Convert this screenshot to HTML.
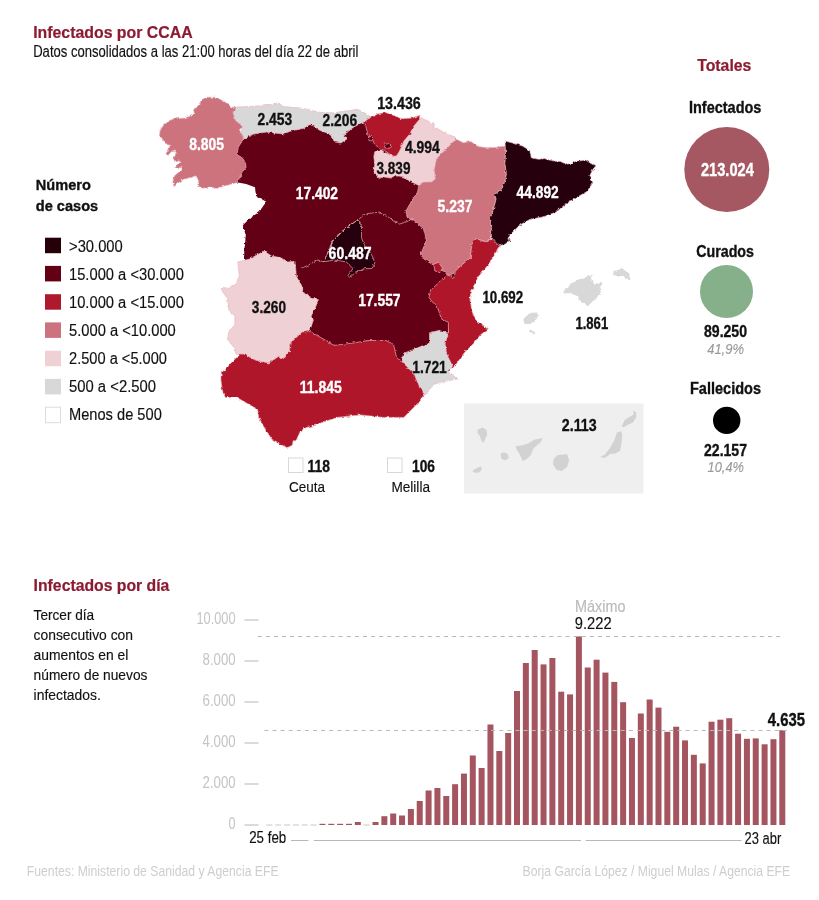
<!DOCTYPE html>
<html><head><meta charset="utf-8"><style>
html,body{margin:0;padding:0;background:#fff;}
svg{display:block;font-family:"Liberation Sans",sans-serif;will-change:transform;}
</style></head><body>
<svg width="819" height="900" viewBox="0 0 819 900">
<rect width="819" height="900" fill="#fff"/>
<defs><filter id="rough" x="-5%" y="-5%" width="110%" height="110%"><feTurbulence type="fractalNoise" baseFrequency="0.3" numOctaves="2" seed="3"/><feDisplacementMap in="SourceGraphic" scale="3.2" xChannelSelector="R" yChannelSelector="G"/></filter></defs><g filter="url(#rough)">
<polygon points="250.0,128.0 228.0,140.0 228.0,182.0 239.4,182.8 246.1,183.9 255.0,187.2 256.0,195.9 266.3,201.8 259.0,212.0 250.2,217.9 242.8,225.2 245.8,235.5 244.3,250.0 244.0,262.0 270.0,280.0 300.0,320.0 315.0,350.0 360.0,358.0 400.0,364.0 412.0,370.0 422.0,388.0 450.0,370.0 447.0,340.0 452.0,300.0 458.0,285.0 470.0,262.0 478.0,242.0 490.0,230.0 480.0,200.0 430.0,225.0 425.0,190.0 410.0,160.0 380.0,135.0 365.0,120.0 345.0,125.0 300.0,125.0 260.0,128.0" fill="#630013" />
<polygon points="207.2,97.2 215.0,97.2 220.6,99.4 226.1,102.8 231.7,107.2 237.2,107.2 233.9,112.8 235.0,117.2 238.3,121.7 241.7,125.0 242.8,127.2 239.4,129.4 241.7,135.0 243.9,138.3 241.7,141.7 238.3,147.2 237.2,155.0 241.7,157.2 245.0,161.7 246.1,167.2 241.7,172.8 239.4,178.3 237.2,182.8 231.7,183.9 223.9,186.1 217.2,188.3 209.4,187.2 202.1,188.2 197.7,185.6 198.6,180.2 195.9,175.8 190.6,177.6 183.4,179.3 177.2,183.8 173.7,186.4 172.8,181.1 174.6,175.8 180.8,170.4 181.7,166.0 178.1,168.7 175.4,166.9 180.8,162.4 179.0,159.8 174.6,161.6 173.7,158.0 176.3,153.6 175.4,150.0 171.9,150.9 168.3,155.3 166.6,152.7 168.3,148.2 170.6,145.1 168.3,144.7 164.8,142.9 162.1,138.4 159.4,135.8 160.3,129.6 163.9,125.1 169.2,120.7 174.6,118.4 181.7,118.4 188.8,116.7 192.3,115.3 195.0,113.6 193.2,110.0 195.0,109.4 199.4,103.9 201.7,99.4" fill="#cd737e" stroke="#e8b4bd" stroke-opacity="0.75" stroke-width="0.9" stroke-linejoin="round"/>
<polygon points="236.8,107.1 248.3,106.5 266.6,105.6 278.5,102.8 283.1,106.5 303.3,108.3 317.9,112.0 332.6,112.9 357.5,109.3 364.3,112.7 372.1,117.6 364.3,123.0 354.5,126.4 344.8,134.2 343.8,137.1 346.7,139.1 340.9,143.0 335.0,142.0 329.8,134.0 319.7,130.3 310.6,123.9 303.3,128.5 290.4,131.2 283.1,134.0 266.6,132.1 253.8,134.0 242.8,139.5 244.1,138.2 240.5,131.5 242.9,126.6 235.6,120.5 233.1,112.6" fill="#d8d8d8" stroke="#e8b4bd" stroke-opacity="0.75" stroke-width="0.9" stroke-linejoin="round"/>
<polygon points="374.8,151.7 382.6,150.7 384.5,152.7 389.4,153.7 393.3,154.6 396.0,140.0 405.0,125.0 415.0,118.1 418.3,115.9 424.4,119.5 433.0,123.2 434.2,129.3 436.6,128.1 442.7,131.7 453.7,136.6 455.6,139.1 448.8,146.4 442.7,152.5 436.6,158.6 434.2,168.4 435.3,179.1 431.4,182.0 423.6,182.0 420.7,185.9 417.7,184.9 413.8,183.0 408.0,181.0 404.1,177.1 399.2,176.1 394.3,176.1 390.4,178.1 384.5,177.1 380.6,179.1 377.7,177.1 373.8,171.3 374.8,164.4 373.8,156.6" fill="#efd0d5" stroke="#e8b4bd" stroke-opacity="0.75" stroke-width="0.9" stroke-linejoin="round"/>
<polygon points="362.8,122.4 369.5,118.1 378.1,113.8 385.4,112.6 392.7,115.0 401.3,118.7 411.0,118.1 419.6,115.6 419.6,119.3 413.5,126.6 409.8,134.0 403.7,141.3 401.3,147.4 398.8,152.3 396.4,155.9 392.7,156.5 389.1,153.5 384.2,150.4 378.1,147.4 374.4,143.7 372.0,138.8 368.3,136.4 367.1,131.5 365.9,126.6" fill="#b0192c" stroke="#e8b4bd" stroke-opacity="0.75" stroke-width="0.9" stroke-linejoin="round"/>
<polygon points="383.5,144.2 388.5,143.8 391.5,146.3 390.0,148.2 385.0,147.8" fill="#630013" stroke="#e8b4bd" stroke-opacity="0.75" stroke-width="0.9" stroke-linejoin="round"/>
<polygon points="368.5,137.0 371.5,136.5 373.5,138.5 371.5,141.0 369.0,140.5" fill="#630013" stroke="#e8b4bd" stroke-opacity="0.75" stroke-width="0.9" stroke-linejoin="round"/>
<polygon points="455.6,139.1 463.5,142.7 470.8,141.5 478.1,146.4 485.5,147.6 494.7,147.6 504.9,146.1 505.6,152.0 504.9,163.7 506.4,174.0 504.9,181.3 502.0,188.6 494.7,194.5 496.1,198.9 493.2,210.6 490.3,217.9 491.7,225.2 490.3,235.5 490.8,238.9 486.4,241.8 476.2,238.9 471.8,244.7 470.3,257.9 461.5,265.2 454.2,272.6 449.8,275.5 442.5,271.1 433.7,265.2 426.4,260.8 420.5,255.0 426.4,240.3 423.4,228.6 413.2,219.8 407.3,218.4 405.9,211.0 411.7,200.8 417.6,192.0 419.0,184.7 423.6,182.0 431.4,182.0 435.3,179.1 434.2,168.4 436.6,158.6 442.7,152.5 448.8,146.4" fill="#cd737e" stroke="#e8b4bd" stroke-opacity="0.75" stroke-width="0.9" stroke-linejoin="round"/>
<polygon points="473.3,240.7 476.2,238.9 486.4,241.8 490.8,238.9 497.0,237.0 504.0,241.0 500.0,246.5 498.2,247.8 494.7,254.9 487.6,265.6 478.7,276.2 473.3,286.9 469.8,297.6 471.6,310.0 475.1,318.9 480.4,324.2 488.4,328.7 480.4,334.9 473.3,343.8 464.4,352.7 455.6,365.1 452.0,368.7 446.7,354.4 444.9,343.8 448.4,333.1 448.4,322.4 441.3,318.9 437.8,308.2 428.9,297.6 430.7,290.4 439.6,281.6 446.7,274.4 453.8,278.0 455.6,270.9 461.5,265.2 470.3,257.9 471.8,244.7" fill="#b0192c" stroke="#e8b4bd" stroke-opacity="0.75" stroke-width="0.9" stroke-linejoin="round"/>
<polygon points="504.9,141.0 513.7,143.2 522.5,146.1 529.8,150.5 531.3,157.8 538.6,159.3 544.5,158.6 551.8,160.8 560.6,161.5 567.9,165.2 575.2,161.5 585.5,160.0 591.4,163.7 595.7,165.9 592.8,169.6 589.9,175.4 592.8,182.7 587.0,191.5 576.7,197.4 565.0,204.7 556.2,212.0 544.5,216.4 529.8,219.4 519.6,225.2 512.2,232.6 507.8,238.4 510.8,239.9 504.9,244.3 499.0,245.7 494.7,241.4 490.3,235.5 491.7,225.2 490.3,217.9 493.2,210.6 496.1,198.9 494.7,194.5 502.0,188.6 504.9,181.3 506.4,174.0 504.9,163.7 505.6,152.0" fill="#260008" stroke="#e8b4bd" stroke-opacity="0.75" stroke-width="0.9" stroke-linejoin="round"/>
<polygon points="433.7,265.2 438.0,262.0 442.5,268.0 440.0,272.6 435.0,271.0" fill="#b0192c" stroke="#e8b4bd" stroke-opacity="0.75" stroke-width="0.9" stroke-linejoin="round"/>
<polygon points="401.3,361.0 403.8,353.3 416.7,348.2 429.5,343.1 429.5,332.8 439.7,330.3 447.4,332.8 448.4,333.1 444.9,343.8 446.7,354.4 452.6,366.2 447.4,371.3 457.7,379.0 444.9,381.5 434.6,384.1 424.4,394.4 419.2,386.7 414.1,373.8 406.4,366.2" fill="#d8d8d8" stroke="#e8b4bd" stroke-opacity="0.75" stroke-width="0.9" stroke-linejoin="round"/>
<polygon points="237.8,262.0 249.6,259.0 264.2,251.0 271.5,256.1 280.3,257.6 287.7,262.0 295.0,261.2 296.4,276.6 300.8,284.0 303.8,292.7 312.6,298.6 318.4,298.6 315.5,307.4 311.1,316.2 313.4,320.0 310.2,329.5 302.3,331.9 289.6,343.8 289.6,351.7 283.3,358.1 278.5,356.5 269.0,362.9 257.9,361.3 243.6,354.1 235.6,353.3 234.9,348.4 227.6,339.6 229.0,330.8 234.9,325.0 234.9,316.2 229.0,310.3 227.6,298.6 220.3,288.4 227.6,288.4 236.4,284.0 239.3,276.6" fill="#efd0d5" stroke="#e8b4bd" stroke-opacity="0.75" stroke-width="0.9" stroke-linejoin="round"/>
<polygon points="240.4,354.1 243.6,354.1 257.9,361.3 269.0,362.9 278.5,356.5 283.3,358.1 289.6,351.7 289.6,343.8 302.3,331.9 310.2,331.5 326.1,340.6 334.0,345.4 352.6,343.1 368.0,340.5 385.9,340.5 393.6,344.4 396.2,355.9 401.3,361.0 406.4,366.2 414.1,373.8 419.2,386.7 424.4,394.4 416.7,404.6 403.8,417.4 383.3,417.4 360.3,414.9 337.2,417.4 321.8,422.6 315.0,425.4 306.3,427.6 300.4,431.2 296.0,440.8 293.1,440.8 292.4,445.2 287.2,447.7 279.2,443.7 271.8,439.3 263.8,426.8 258.7,417.3 257.5,409.3 247.2,403.4 237.0,397.6 225.3,397.6 222.3,390.3 220.9,380.0 221.3,371.0 224.5,370.8 230.9,362.9" fill="#b0192c" stroke="#e8b4bd" stroke-opacity="0.75" stroke-width="0.9" stroke-linejoin="round"/>
<polygon points="358.1,219.9 361.5,225.9 361.5,237.9 365.0,246.4 371.8,255.0 375.2,263.5 371.8,268.6 365.0,268.6 356.4,272.1 349.6,277.2 347.9,275.5 353.0,268.6 346.2,261.8 334.2,260.1 323.9,261.8 332.5,241.3 346.2,227.6" fill="#260008" stroke="#e8b4bd" stroke-opacity="0.75" stroke-width="0.9" stroke-linejoin="round"/>
<polyline points="300.0,268.6 308.5,265.2 317.1,260.1 323.9,261.8 332.5,241.3 346.2,227.6 358.1,219.9 365.0,213.9 378.6,212.2 388.9,217.4 399.1,224.2 409.4,220.8 413.2,219.8" fill="none" stroke="#e8b4bd" stroke-opacity="0.75" stroke-width="0.9" stroke-linejoin="round"/>
<polygon points="562.6,291.7 575.3,280.6 584.8,277.5 592.8,274.3 591.2,279.0 594.4,284.6 600.7,283.0 602.3,290.2 597.5,296.5 592.8,301.3 588.0,306.0 583.3,302.9 578.5,299.7 578.5,296.5 570.6,293.3 564.2,293.3" fill="#d8d8d8" />
<polygon points="613.4,271.1 622.9,268.7 627.7,272.7 630.9,279.0 629.3,280.6 622.9,275.9 616.6,275.9 613.4,274.3" fill="#d8d8d8" />
<polygon points="523.5,319.0 527.0,315.5 531.0,312.8 537.0,312.5 538.0,316.0 535.8,320.0 530.0,324.0 524.5,324.0" fill="#d8d8d8" />
<polygon points="529.3,330.6 532.0,331.0 535.6,333.0 535.0,334.0 531.0,332.3 529.0,332.0" fill="#d8d8d8" />
</g>
<rect x="464" y="403.5" width="179.5" height="90" fill="#efefef"/>
<polygon points="477.8,429.4 482.5,427.4 486.5,430.1 487.2,434.8 485.1,438.8 483.8,442.8 481.8,441.5 479.8,436.1 477.4,432.8" fill="#d2d2d2" />
<polygon points="472.4,471.0 475.7,468.4 481.1,466.3 481.8,469.7 479.1,472.4 474.4,472.7" fill="#d2d2d2" />
<polygon points="500.6,453.6 504.0,452.2 508.0,454.3 508.7,458.3 505.3,460.3 501.3,459.0" fill="#d2d2d2" />
<polygon points="515.4,446.2 521.4,445.5 528.1,443.5 534.8,439.5 542.9,438.1 540.2,442.8 533.5,448.2 530.8,454.9 526.8,459.0 522.8,461.0 520.1,454.9 516.7,449.6" fill="#d2d2d2" />
<polygon points="553.6,459.0 557.7,454.9 567.1,454.3 569.1,460.3 567.1,467.0 561.7,471.0 556.3,469.7 553.0,464.3" fill="#d2d2d2" />
<polygon points="600.1,456.7 604.8,454.7 609.5,448.7 614.2,440.6 616.9,432.5 620.9,431.2 622.2,433.9 621.6,442.6 620.2,450.7 615.5,453.4 610.1,454.0 604.8,458.1" fill="#d2d2d2" />
<polygon points="621.6,426.5 624.9,419.8 630.3,416.4 633.7,414.4 633.0,410.4 636.3,412.4 636.3,417.1 633.0,422.5 627.6,425.1 623.6,427.2" fill="#d2d2d2" />
<rect x="288.5" y="458" width="14.5" height="14.5" fill="#fff" stroke="#d8d8d8" stroke-width="1"/>
<rect x="387.5" y="458" width="14.5" height="14.5" fill="#fff" stroke="#d8d8d8" stroke-width="1"/>
<rect x="45" y="237.7" width="16" height="15.5" fill="#260008"/>
<rect x="45" y="265.9" width="16" height="15.5" fill="#630013"/>
<rect x="45" y="294.2" width="16" height="15.5" fill="#b0192c"/>
<rect x="45" y="322.4" width="16" height="15.5" fill="#cd737e"/>
<rect x="45" y="350.7" width="16" height="15.5" fill="#efd0d5"/>
<rect x="45" y="378.9" width="16" height="15.5" fill="#d8d8d8"/>
<rect x="45.5" y="407.2" width="15" height="15.5" fill="#ffffff" stroke="#dcdcdc" stroke-width="1"/>
<circle cx="726.8" cy="169.6" r="42.5" fill="#a65862"/>
<circle cx="726.5" cy="291.5" r="26.5" fill="#86b08a"/>
<circle cx="726.7" cy="420.4" r="13.7" fill="#000"/>
<rect x="244.5" y="824.5" width="14" height="1" fill="#b5b5b5"/>
<rect x="244.5" y="783.5" width="14" height="1" fill="#b5b5b5"/>
<rect x="244.5" y="742.5" width="14" height="1" fill="#b5b5b5"/>
<rect x="244.5" y="701.5" width="14" height="1" fill="#b5b5b5"/>
<rect x="244.5" y="660.5" width="14" height="1" fill="#b5b5b5"/>
<rect x="244.5" y="619.5" width="14" height="1" fill="#b5b5b5"/>
<rect x="266.40" y="824.5" width="6" height="1" fill="#c8c8c8"/>
<rect x="275.24" y="824.5" width="6" height="1" fill="#c8c8c8"/>
<rect x="284.09" y="824.5" width="6" height="1" fill="#c8c8c8"/>
<rect x="292.93" y="824.5" width="6" height="1" fill="#c8c8c8"/>
<rect x="301.77" y="824.5" width="6" height="1" fill="#c8c8c8"/>
<rect x="310.62" y="824.5" width="6" height="1" fill="#c8c8c8"/>
<rect x="319.46" y="823.80" width="6" height="1.20" fill="#a5555f"/>
<rect x="328.30" y="823.80" width="6" height="1.20" fill="#a5555f"/>
<rect x="337.14" y="823.80" width="6" height="1.20" fill="#a5555f"/>
<rect x="345.99" y="823.80" width="6" height="1.20" fill="#a5555f"/>
<rect x="354.83" y="822.00" width="6" height="3.00" fill="#a5555f"/>
<rect x="363.67" y="824.5" width="6" height="1" fill="#c8c8c8"/>
<rect x="372.52" y="822.00" width="6" height="3.00" fill="#a5555f"/>
<rect x="381.36" y="816.20" width="6" height="8.80" fill="#a5555f"/>
<rect x="390.20" y="813.50" width="6" height="11.50" fill="#a5555f"/>
<rect x="399.04" y="815.50" width="6" height="9.50" fill="#a5555f"/>
<rect x="407.89" y="809.00" width="6" height="16.00" fill="#a5555f"/>
<rect x="416.73" y="801.00" width="6" height="24.00" fill="#a5555f"/>
<rect x="425.57" y="790.50" width="6" height="34.50" fill="#a5555f"/>
<rect x="434.42" y="788.00" width="6" height="37.00" fill="#a5555f"/>
<rect x="443.26" y="796.00" width="6" height="29.00" fill="#a5555f"/>
<rect x="452.10" y="784.20" width="6" height="40.80" fill="#a5555f"/>
<rect x="460.95" y="773.60" width="6" height="51.40" fill="#a5555f"/>
<rect x="469.79" y="755.50" width="6" height="69.50" fill="#a5555f"/>
<rect x="478.63" y="768.00" width="6" height="57.00" fill="#a5555f"/>
<rect x="487.47" y="724.50" width="6" height="100.50" fill="#a5555f"/>
<rect x="496.32" y="751.00" width="6" height="74.00" fill="#a5555f"/>
<rect x="505.16" y="733.00" width="6" height="92.00" fill="#a5555f"/>
<rect x="514.00" y="691.00" width="6" height="134.00" fill="#a5555f"/>
<rect x="522.85" y="663.00" width="6" height="162.00" fill="#a5555f"/>
<rect x="531.69" y="650.00" width="6" height="175.00" fill="#a5555f"/>
<rect x="540.53" y="664.40" width="6" height="160.60" fill="#a5555f"/>
<rect x="549.38" y="658.00" width="6" height="167.00" fill="#a5555f"/>
<rect x="558.22" y="691.70" width="6" height="133.30" fill="#a5555f"/>
<rect x="567.06" y="694.40" width="6" height="130.60" fill="#a5555f"/>
<rect x="575.90" y="636.40" width="6" height="188.60" fill="#a5555f"/>
<rect x="584.75" y="667.50" width="6" height="157.50" fill="#a5555f"/>
<rect x="593.59" y="659.70" width="6" height="165.30" fill="#a5555f"/>
<rect x="602.43" y="672.60" width="6" height="152.40" fill="#a5555f"/>
<rect x="611.28" y="681.90" width="6" height="143.10" fill="#a5555f"/>
<rect x="620.12" y="702.20" width="6" height="122.80" fill="#a5555f"/>
<rect x="628.96" y="738.00" width="6" height="87.00" fill="#a5555f"/>
<rect x="637.81" y="713.50" width="6" height="111.50" fill="#a5555f"/>
<rect x="646.65" y="699.50" width="6" height="125.50" fill="#a5555f"/>
<rect x="655.49" y="707.60" width="6" height="117.40" fill="#a5555f"/>
<rect x="664.34" y="731.80" width="6" height="93.20" fill="#a5555f"/>
<rect x="673.18" y="726.70" width="6" height="98.30" fill="#a5555f"/>
<rect x="682.02" y="740.40" width="6" height="84.60" fill="#a5555f"/>
<rect x="690.86" y="754.80" width="6" height="70.20" fill="#a5555f"/>
<rect x="699.71" y="763.40" width="6" height="61.60" fill="#a5555f"/>
<rect x="708.55" y="721.70" width="6" height="103.30" fill="#a5555f"/>
<rect x="717.39" y="719.70" width="6" height="105.30" fill="#a5555f"/>
<rect x="726.24" y="718.20" width="6" height="106.80" fill="#a5555f"/>
<rect x="735.08" y="733.70" width="6" height="91.30" fill="#a5555f"/>
<rect x="743.92" y="738.80" width="6" height="86.20" fill="#a5555f"/>
<rect x="752.76" y="738.40" width="6" height="86.60" fill="#a5555f"/>
<rect x="761.61" y="744.30" width="6" height="80.70" fill="#a5555f"/>
<rect x="770.45" y="739.20" width="6" height="85.80" fill="#a5555f"/>
<rect x="779.29" y="730.20" width="6" height="94.80" fill="#a5555f"/>
<line x1="257.7" y1="636.5" x2="784" y2="636.5" stroke="#b8b8b8" stroke-width="1" stroke-dasharray="4,4.1"/>
<line x1="264.4" y1="730.5" x2="790" y2="730.5" stroke="#b8b8b8" stroke-width="1" stroke-dasharray="4,4.1"/>
<line x1="291" y1="840.5" x2="308.4" y2="840.5" stroke="#b8b8b8" stroke-width="1"/>
<line x1="313.8" y1="840.5" x2="581" y2="840.5" stroke="#b8b8b8" stroke-width="1"/>
<line x1="585.7" y1="840.5" x2="741.5" y2="840.5" stroke="#b8b8b8" stroke-width="1"/>
<text x="189.20" y="150.40" font-size="16.89" font-weight="bold" font-style="normal" fill="#ffffff" textLength="34.80" lengthAdjust="spacingAndGlyphs" stroke="#ffffff" stroke-width="0.35">8.805</text>
<text x="257.60" y="124.60" font-size="16.89" font-weight="bold" font-style="normal" fill="#111111" textLength="34.60" lengthAdjust="spacingAndGlyphs" stroke="#111111" stroke-width="0.35">2.453</text>
<text x="322.60" y="126.10" font-size="16.89" font-weight="bold" font-style="normal" fill="#111111" textLength="34.60" lengthAdjust="spacingAndGlyphs" stroke="#111111" stroke-width="0.35">2.206</text>
<text x="377.20" y="108.60" font-size="16.89" font-weight="bold" font-style="normal" fill="#111111" textLength="43.60" lengthAdjust="spacingAndGlyphs" stroke="#111111" stroke-width="0.35">13.436</text>
<text x="405.00" y="153.10" font-size="16.89" font-weight="bold" font-style="normal" fill="#111111" textLength="34.80" lengthAdjust="spacingAndGlyphs" stroke="#111111" stroke-width="0.35">4.994</text>
<text x="376.60" y="174.00" font-size="16.89" font-weight="bold" font-style="normal" fill="#111111" textLength="33.80" lengthAdjust="spacingAndGlyphs" stroke="#111111" stroke-width="0.35">3.839</text>
<text x="295.80" y="198.70" font-size="16.89" font-weight="bold" font-style="normal" fill="#ffffff" textLength="42.20" lengthAdjust="spacingAndGlyphs" stroke="#ffffff" stroke-width="0.35">17.402</text>
<text x="437.60" y="211.80" font-size="16.89" font-weight="bold" font-style="normal" fill="#ffffff" textLength="34.80" lengthAdjust="spacingAndGlyphs" stroke="#ffffff" stroke-width="0.35">5.237</text>
<text x="516.60" y="198.00" font-size="16.89" font-weight="bold" font-style="normal" fill="#ffffff" textLength="42.20" lengthAdjust="spacingAndGlyphs" stroke="#ffffff" stroke-width="0.35">44.892</text>
<text x="328.60" y="259.20" font-size="16.89" font-weight="bold" font-style="normal" fill="#ffffff" textLength="43.00" lengthAdjust="spacingAndGlyphs" stroke="#ffffff" stroke-width="0.35">60.487</text>
<text x="358.20" y="305.90" font-size="16.89" font-weight="bold" font-style="normal" fill="#ffffff" textLength="42.40" lengthAdjust="spacingAndGlyphs" stroke="#ffffff" stroke-width="0.35">17.557</text>
<text x="251.80" y="312.50" font-size="16.89" font-weight="bold" font-style="normal" fill="#111111" textLength="34.20" lengthAdjust="spacingAndGlyphs" stroke="#111111" stroke-width="0.35">3.260</text>
<text x="482.40" y="303.20" font-size="16.89" font-weight="bold" font-style="normal" fill="#111111" textLength="40.80" lengthAdjust="spacingAndGlyphs" stroke="#111111" stroke-width="0.35">10.692</text>
<text x="575.40" y="328.60" font-size="16.89" font-weight="bold" font-style="normal" fill="#111111" textLength="32.80" lengthAdjust="spacingAndGlyphs" stroke="#111111" stroke-width="0.35">1.861</text>
<text x="299.80" y="393.30" font-size="16.89" font-weight="bold" font-style="normal" fill="#ffffff" textLength="42.00" lengthAdjust="spacingAndGlyphs" stroke="#ffffff" stroke-width="0.35">11.845</text>
<text x="412.20" y="372.60" font-size="16.89" font-weight="bold" font-style="normal" fill="#111111" textLength="34.60" lengthAdjust="spacingAndGlyphs" stroke="#111111" stroke-width="0.35">1.721</text>
<text x="561.80" y="431.10" font-size="16.89" font-weight="bold" font-style="normal" fill="#111111" textLength="34.80" lengthAdjust="spacingAndGlyphs" stroke="#111111" stroke-width="0.35">2.113</text>
<text x="307.60" y="472.00" font-size="16.89" font-weight="bold" font-style="normal" fill="#111111" textLength="22.40" lengthAdjust="spacingAndGlyphs" stroke="#111111" stroke-width="0.35">118</text>
<text x="412.00" y="472.00" font-size="16.89" font-weight="bold" font-style="normal" fill="#111111" textLength="23.00" lengthAdjust="spacingAndGlyphs" stroke="#111111" stroke-width="0.35">106</text>
<text x="289.00" y="491.80" font-size="15.54" font-weight="normal" font-style="normal" fill="#111111" textLength="36.00" lengthAdjust="spacingAndGlyphs" stroke="#111111" stroke-width="0.15">Ceuta</text>
<text x="391.40" y="491.80" font-size="15.54" font-weight="normal" font-style="normal" fill="#111111" textLength="38.60" lengthAdjust="spacingAndGlyphs" stroke="#111111" stroke-width="0.15">Melilla</text>
<text x="33.20" y="37.60" font-size="16.09" font-weight="bold" font-style="normal" fill="#8c1b31" textLength="159.40" lengthAdjust="spacingAndGlyphs" stroke="#8c1b31" stroke-width="0.2">Infectados por CCAA</text>
<text x="33.20" y="56.80" font-size="15.83" font-weight="normal" font-style="normal" fill="#111111" textLength="325.20" lengthAdjust="spacingAndGlyphs" stroke="#111111" stroke-width="0.15">Datos consolidados a las 21:00 horas del día 22 de abril</text>
<text x="35.80" y="189.50" font-size="15.54" font-weight="bold" font-style="normal" fill="#111111" textLength="55.00" lengthAdjust="spacingAndGlyphs" stroke="#111111" stroke-width="0.35">Número</text>
<text x="35.80" y="210.70" font-size="15.54" font-weight="bold" font-style="normal" fill="#111111" textLength="62.40" lengthAdjust="spacingAndGlyphs" stroke="#111111" stroke-width="0.35">de casos</text>
<text x="69.00" y="252.10" font-size="15.83" font-weight="normal" font-style="normal" fill="#111111" textLength="53.80" lengthAdjust="spacingAndGlyphs" stroke="#111111" stroke-width="0.15">&gt;30.000</text>
<text x="69.00" y="280.10" font-size="15.83" font-weight="normal" font-style="normal" fill="#111111" textLength="115.00" lengthAdjust="spacingAndGlyphs" stroke="#111111" stroke-width="0.15">15.000 a &lt;30.000</text>
<text x="69.00" y="308.10" font-size="15.83" font-weight="normal" font-style="normal" fill="#111111" textLength="115.00" lengthAdjust="spacingAndGlyphs" stroke="#111111" stroke-width="0.15">10.000 a &lt;15.000</text>
<text x="69.00" y="336.10" font-size="15.83" font-weight="normal" font-style="normal" fill="#111111" textLength="106.80" lengthAdjust="spacingAndGlyphs" stroke="#111111" stroke-width="0.15">5.000 a &lt;10.000</text>
<text x="69.00" y="364.10" font-size="15.83" font-weight="normal" font-style="normal" fill="#111111" textLength="98.00" lengthAdjust="spacingAndGlyphs" stroke="#111111" stroke-width="0.15">2.500 a &lt;5.000</text>
<text x="69.00" y="392.10" font-size="15.83" font-weight="normal" font-style="normal" fill="#111111" textLength="87.00" lengthAdjust="spacingAndGlyphs" stroke="#111111" stroke-width="0.15">500 a &lt;2.500</text>
<text x="69.00" y="420.10" font-size="15.83" font-weight="normal" font-style="normal" fill="#111111" textLength="92.80" lengthAdjust="spacingAndGlyphs" stroke="#111111" stroke-width="0.15">Menos de 500</text>
<text x="697.20" y="70.50" font-size="15.80" font-weight="bold" font-style="normal" fill="#8c1b31" textLength="54.20" lengthAdjust="spacingAndGlyphs" stroke="#8c1b31" stroke-width="0.2">Totales</text>
<text x="689.00" y="113.30" font-size="17.14" font-weight="bold" font-style="normal" fill="#111111" textLength="72.40" lengthAdjust="spacingAndGlyphs" stroke="#111111" stroke-width="0.35">Infectados</text>
<text x="701.00" y="176.00" font-size="18.32" font-weight="bold" font-style="normal" fill="#ffffff" textLength="52.80" lengthAdjust="spacingAndGlyphs" stroke="#ffffff" stroke-width="0.35">213.024</text>
<text x="696.20" y="256.80" font-size="16.41" font-weight="bold" font-style="normal" fill="#111111" textLength="57.80" lengthAdjust="spacingAndGlyphs" stroke="#111111" stroke-width="0.35">Curados</text>
<text x="704.00" y="337.00" font-size="16.04" font-weight="bold" font-style="normal" fill="#111111" textLength="43.00" lengthAdjust="spacingAndGlyphs" stroke="#111111" stroke-width="0.35">89.250</text>
<text x="707.20" y="353.70" font-size="15.18" font-weight="normal" font-style="italic" fill="#9a9a9a" textLength="36.80" lengthAdjust="spacingAndGlyphs" stroke="#9a9a9a" stroke-width="0.15">41,9%</text>
<text x="690.00" y="394.20" font-size="16.70" font-weight="bold" font-style="normal" fill="#111111" textLength="71.00" lengthAdjust="spacingAndGlyphs" stroke="#111111" stroke-width="0.35">Fallecidos</text>
<text x="704.00" y="456.40" font-size="16.46" font-weight="bold" font-style="normal" fill="#111111" textLength="43.00" lengthAdjust="spacingAndGlyphs" stroke="#111111" stroke-width="0.35">22.157</text>
<text x="707.60" y="471.80" font-size="15.32" font-weight="normal" font-style="italic" fill="#9a9a9a" textLength="36.40" lengthAdjust="spacingAndGlyphs" stroke="#9a9a9a" stroke-width="0.15">10,4%</text>
<text x="33.60" y="591.10" font-size="16.23" font-weight="bold" font-style="normal" fill="#8c1b31" textLength="135.80" lengthAdjust="spacingAndGlyphs" stroke="#8c1b31" stroke-width="0.2">Infectados por día</text>
<text x="33.60" y="619.80" font-size="15.40" font-weight="normal" font-style="normal" fill="#111111" textLength="60.60" lengthAdjust="spacingAndGlyphs" stroke="#111111" stroke-width="0.15">Tercer día</text>
<text x="33.60" y="640.30" font-size="15.40" font-weight="normal" font-style="normal" fill="#111111" textLength="99.40" lengthAdjust="spacingAndGlyphs" stroke="#111111" stroke-width="0.15">consecutivo con</text>
<text x="33.60" y="660.30" font-size="15.40" font-weight="normal" font-style="normal" fill="#111111" textLength="94.80" lengthAdjust="spacingAndGlyphs" stroke="#111111" stroke-width="0.15">aumentos en el</text>
<text x="33.60" y="680.40" font-size="15.40" font-weight="normal" font-style="normal" fill="#111111" textLength="113.80" lengthAdjust="spacingAndGlyphs" stroke="#111111" stroke-width="0.15">número de nuevos</text>
<text x="33.60" y="699.90" font-size="15.40" font-weight="normal" font-style="normal" fill="#111111" textLength="67.20" lengthAdjust="spacingAndGlyphs" stroke="#111111" stroke-width="0.15">infectados.</text>
<text x="228.60" y="829.00" font-size="16.00" font-weight="normal" font-style="normal" fill="#c4c4c4" textLength="7.00" lengthAdjust="spacingAndGlyphs">0</text>
<text x="202.60" y="788.00" font-size="16.00" font-weight="normal" font-style="normal" fill="#c4c4c4" textLength="33.00" lengthAdjust="spacingAndGlyphs">2.000</text>
<text x="202.60" y="747.00" font-size="16.00" font-weight="normal" font-style="normal" fill="#c4c4c4" textLength="33.00" lengthAdjust="spacingAndGlyphs">4.000</text>
<text x="202.60" y="706.00" font-size="16.00" font-weight="normal" font-style="normal" fill="#c4c4c4" textLength="33.00" lengthAdjust="spacingAndGlyphs">6.000</text>
<text x="202.60" y="665.00" font-size="16.00" font-weight="normal" font-style="normal" fill="#c4c4c4" textLength="33.00" lengthAdjust="spacingAndGlyphs">8.000</text>
<text x="196.40" y="624.00" font-size="16.00" font-weight="normal" font-style="normal" fill="#c4c4c4" textLength="39.20" lengthAdjust="spacingAndGlyphs">10.000</text>
<text x="575.00" y="612.20" font-size="16.85" font-weight="normal" font-style="normal" fill="#bababa" textLength="50.40" lengthAdjust="spacingAndGlyphs" stroke="#bababa" stroke-width="0.15">Máximo</text>
<text x="574.80" y="628.80" font-size="17.32" font-weight="normal" font-style="normal" fill="#111111" textLength="36.80" lengthAdjust="spacingAndGlyphs" stroke="#111111" stroke-width="0.15">9.222</text>
<text x="767.80" y="725.50" font-size="17.46" font-weight="bold" font-style="normal" fill="#111111" textLength="37.20" lengthAdjust="spacingAndGlyphs" stroke="#111111" stroke-width="0.35">4.635</text>
<text x="249.20" y="843.40" font-size="16.12" font-weight="normal" font-style="normal" fill="#111111" textLength="37.00" lengthAdjust="spacingAndGlyphs" stroke="#111111" stroke-width="0.15">25 feb</text>
<text x="744.60" y="844.00" font-size="16.12" font-weight="normal" font-style="normal" fill="#111111" textLength="36.60" lengthAdjust="spacingAndGlyphs" stroke="#111111" stroke-width="0.15">23 abr</text>
<text x="26.80" y="876.20" font-size="14.49" font-weight="normal" font-style="normal" fill="#cecece" textLength="251.80" lengthAdjust="spacingAndGlyphs">Fuentes: Ministerio de Sanidad y Agencia EFE</text>
<text x="522.60" y="876.20" font-size="14.49" font-weight="normal" font-style="normal" fill="#cecece" textLength="267.60" lengthAdjust="spacingAndGlyphs">Borja García López / Miguel Mulas / Agencia EFE</text>
</svg></body></html>
